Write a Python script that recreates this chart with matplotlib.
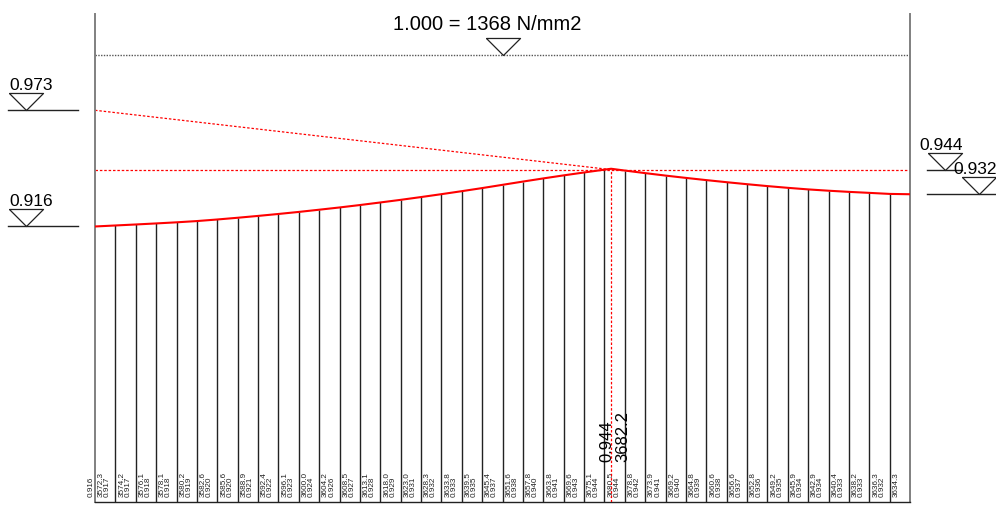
import matplotlib
matplotlib.use("Agg")
import matplotlib.pyplot as plt
import matplotlib.transforms as mtransforms

plt.rcParams['font.family'] = ['Liberation Sans', 'DejaVu Sans']

# tendon force at each station (kN) and the printed stress ratio
forces = [3572.3, 3574.2, 3576.1, 3578.1, 3580.2, 3582.6, 3585.6, 3588.9, 3592.4, 3596.1,
          3600.0, 3604.2, 3608.5, 3613.1, 3618.0, 3623.0, 3628.3, 3633.8, 3639.5, 3645.4,
          3651.6, 3657.8, 3663.8, 3669.6, 3675.1, 3680.5, 3678.8, 3673.9, 3669.2, 3664.8,
          3660.6, 3656.6, 3652.8, 3649.2, 3645.9, 3642.9, 3640.4, 3638.2, 3636.3, 3634.3]
ratios = ["0.916", "0.917", "0.917", "0.918", "0.918", "0.919", "0.920", "0.920", "0.921", "0.922",
          "0.923", "0.924", "0.926", "0.927", "0.928", "0.929", "0.931", "0.932", "0.933", "0.935",
          "0.937", "0.938", "0.940", "0.941", "0.943", "0.944", "0.944", "0.942", "0.941", "0.940",
          "0.939", "0.938", "0.937", "0.936", "0.935", "0.934", "0.934", "0.933", "0.933", "0.932"]
stations = list(range(len(forces)))
n_seg = 40                      # last station (right end)
force_unity = 3898.8            # force that corresponds to 1.000
end_ratio = 0.932
start_anchor = 0.973
peak_station = 25.33
peak_force = 3682.2
peak_ratio = 0.944
title = "1.000 = 1368 N/mm2"

W, H = 996, 505
fig = plt.figure(figsize=(W / 100, H / 100), dpi=100)

# vertical scale: 1.000 at y=55px, 0.916 at y=227px
ppu = (227 - 55) / (1 - 0.916)
y_lo = 1 - (502 - 55) / ppu
y_hi = 1 + (55 - 14) / ppu
ax = fig.add_axes([95 / W, (H - 502) / H, 815 / W, (502 - 14) / H])
ax.set_xlim(0, n_seg)
ax.set_ylim(y_lo, y_hi)
ax.set_xticks([])
ax.set_yticks([])
ax.spines['top'].set_visible(False)
for s in ('left', 'right'):
    ax.spines[s].set_color('#808080')
    ax.spines[s].set_linewidth(1.4)
ax.spines['bottom'].set_color('#222222')
ax.spines['bottom'].set_linewidth(1.0)

vals = [f / force_unity for f in forces]

# curve with peak inserted
xs = stations[:26] + [peak_station] + stations[26:] + [n_seg]
ys = vals[:26] + [peak_force / force_unity] + vals[26:] + [end_ratio]
ax.plot(xs, ys, color='#ff0000', lw=1.5, zorder=4)

# ordinates
ax.vlines(stations[1:], y_lo, vals[1:], color='#222222', lw=1.0, zorder=3)

# reference lines
ax.plot([0, n_seg], [1.0, 1.0], color='#555555', lw=1.0, ls=(0, (1, 1)))
ax.plot([0, n_seg], [peak_ratio, peak_ratio], color='#ff0000', lw=0.9, ls=(0, (2, 1.5)))
ax.plot([0, peak_station], [start_anchor, peak_ratio], color='#ff0000', lw=0.9, ls=(0, (2, 1.5)))
ax.plot([peak_station, peak_station], [y_lo, peak_ratio], color='#ff0000', lw=0.9,
        ls=(0, (2, 1.5)), zorder=5)

# small labels at bottom
y_txt = 1 - (497 - 55) / ppu
def shifted(dx):
    return mtransforms.offset_copy(ax.transData, fig=fig, x=dx, y=0, units='dots')

small = dict(rotation=90, rotation_mode='anchor', ha='left', va='baseline',
             fontsize=5.9, color='#222222')
ax.text(0, y_txt, ratios[0], transform=shifted(-2), **small)
for i in stations:
    ax.text(i, y_txt, f"{forces[i]:.1f}", transform=shifted(8), **small)
    if i + 1 < len(ratios):
        ax.text(i, y_txt, ratios[i + 1], transform=shifted(14), **small)

# peak labels
y_pk = 1 - (462 - 55) / ppu
big = dict(rotation=90, rotation_mode='anchor', ha='left', va='baseline', fontsize=12)
ax.text(peak_station, y_pk, f"{peak_ratio:.3f}", transform=shifted(0), **big)
ax.text(peak_station, y_pk, f"{peak_force:.1f}", transform=shifted(16), **big)

# level markers
tri = [(-1, 1), (1, 1), (0, 0), (-1, 1)]
blend = mtransforms.blended_transform_factory(fig.transFigure, ax.transData)

def level(label, val, x0, x1, apex, tx, fs=12.5):
    ax.plot([x0 / W, x1 / W], [val, val], color='#222222', lw=1.0,
            transform=blend, clip_on=False)
    ax.plot([apex / W], [val], marker=tri, ms=24.5, mfc='none', mec='#222222',
            mew=0.9, transform=blend, clip_on=False)
    ax.annotate(label, xy=(apex / W, val), xycoords=blend,
                xytext=(tx - apex, 20), textcoords='offset pixels',
                ha='left', va='baseline', fontsize=fs, annotation_clip=False)

level(f"{start_anchor:.3f}", start_anchor, 8, 78, 26, 9)
level(ratios[0], vals[0], 8, 78, 26, 9)
level(f"{peak_ratio:.3f}", peak_ratio, 927, 962, 945, 919)
level(f"{end_ratio:.3f}", end_ratio, 927, 996, 979, 953)

# top reference
ax.plot([n_seg / 2], [1.0], marker=tri, ms=24.5, mfc='none', mec='#222222', mew=0.9,
        clip_on=False)
ax.annotate(title, xy=(n_seg / 2, 1.0), xytext=(-15, 25), textcoords='offset pixels',
            ha='center', va='baseline', fontsize=14.5, annotation_clip=False)

fig.savefig("out.png", dpi=100)
